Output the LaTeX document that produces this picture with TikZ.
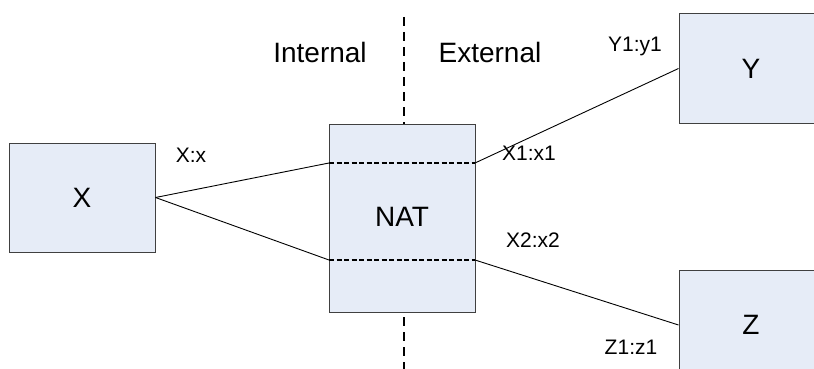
\documentclass[tikz,border=0pt]{standalone}
\usepackage{fontspec}
\setmainfont{Liberation Sans}
\definecolor{boxfill}{HTML}{E6ECF7}
\definecolor{boxline}{HTML}{404040}
\begin{document}
\begin{tikzpicture}[x=1pt,y=-1pt,
  box/.style={draw=boxline,fill=boxfill,line width=1pt,inner sep=0pt},
  big/.style={font=\fontsize{28}{32}\selectfont},
  small/.style={font=\fontsize{21}{25}\selectfont},
  wire/.style={line width=0.9pt},
  divider/.style={line width=1.3pt,dash pattern=on 9pt off 6pt},
  portline/.style={line width=1.1pt,dash pattern=on 5pt off 2.5pt}]
  \useasboundingbox (0,0) rectangle (814,369);
  \clip (0,0) rectangle (814,369);

  % boundary between the internal and external sides
  \coordinate (dtop) at (404,17);
  \coordinate (dbot) at (404,372);
  \draw[divider] (dtop) -- (dbot);
  \node[big] (internal) at (320,52) {Internal};
  \node[big] (external) at (490,52) {External};

  % hosts and the translator
  \node[box,big,minimum width=146pt,minimum height=109pt] (X) at (82,197.5) {X};
  \node[box,minimum width=146pt,minimum height=188pt] (NAT) at (402,218) {};
  \node[big] (nattext) at (402,217) {NAT};
  \node[box,big,minimum width=144pt,minimum height=109pt] (Y) at (751,68.5) {Y};
  \node[box,big,minimum width=144pt,minimum height=109pt] (Z) at (751,325) {Z};

  % mapping rows inside the translator
  \coordinate (na) at (329,163);
  \coordinate (nb) at (475,163);
  \coordinate (nc) at (329,260);
  \coordinate (nd) at (475,260);
  \draw[portline] (na) -- (nb);
  \draw[portline] (nc) -- (nd);

  % connections
  \draw[wire] (X.east) -- (na);
  \draw[wire] (X.east) -- (nc);
  \draw[wire] (nb) -- (Y.west);
  \draw[wire] (nd) -- (Z.west);

  % address:port labels
  \node[small] (lx) at (191,155) {X:x};
  \node[small] (lx1) at (529,153) {X1:x1};
  \node[small] (lx2) at (533,240) {X2:x2};
  \node[small] (ly1) at (635,46) {Y1:y1};
  \node[small] (lz1) at (631,347) {Z1:z1};
\end{tikzpicture}
\end{document}
